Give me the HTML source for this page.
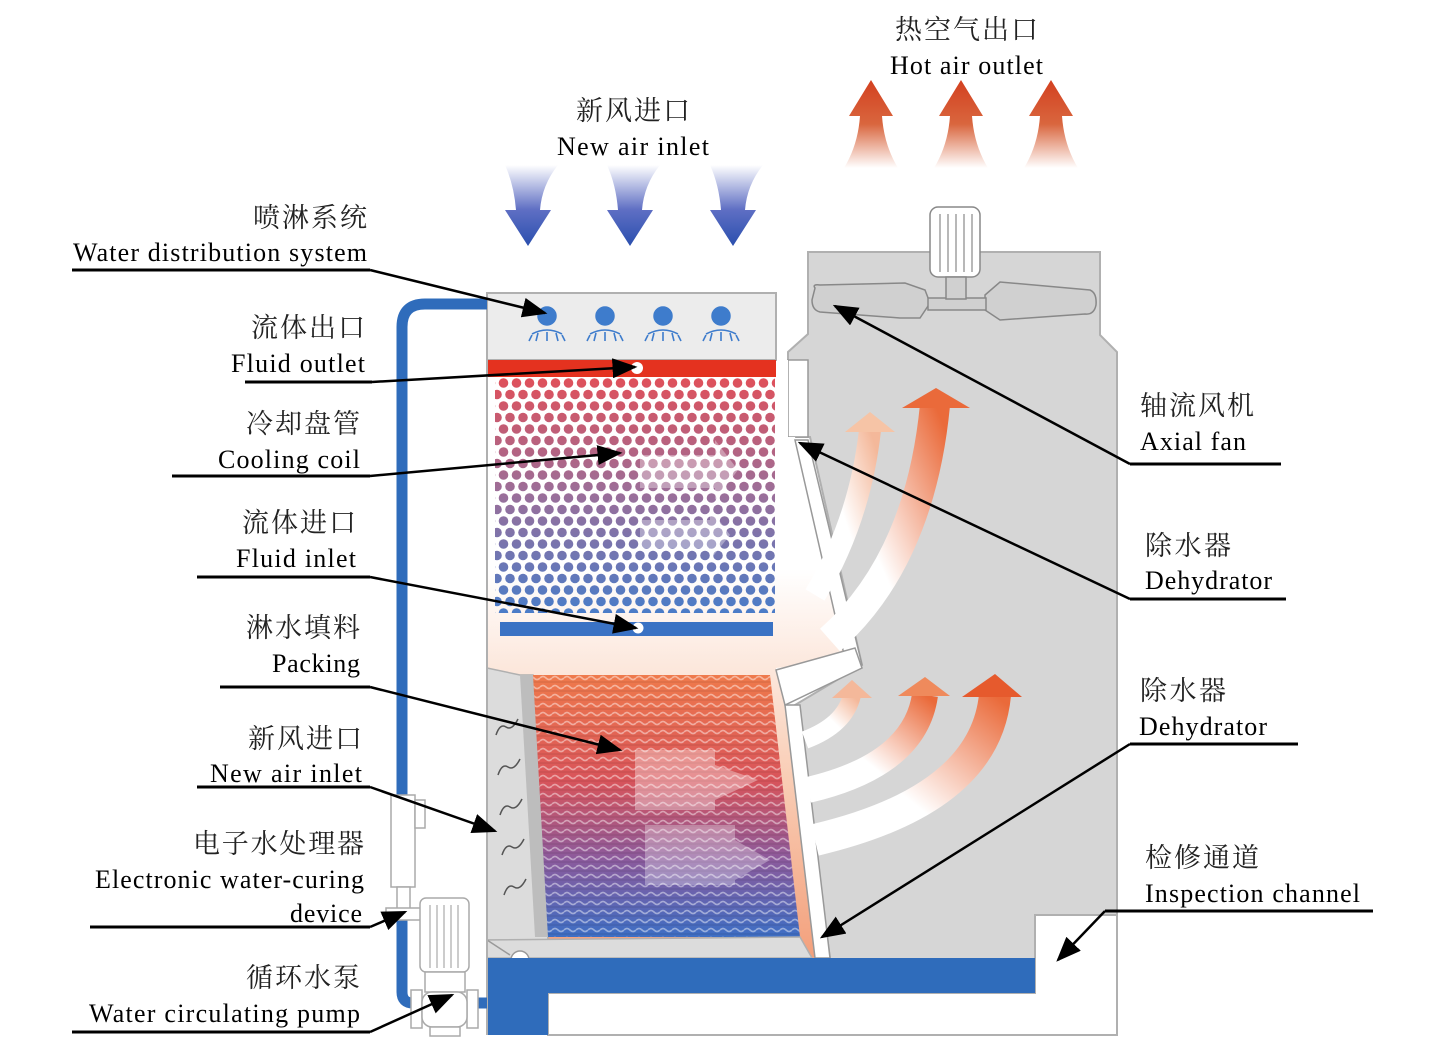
<!DOCTYPE html>
<html><head><meta charset="utf-8"><style>
html,body{margin:0;padding:0;background:#fff;}
svg{display:block;}
.en{font-family:"Liberation Serif","Noto Serif CJK SC",serif;font-size:26px;fill:#000;}
.cn{font-family:"Noto Serif CJK SC","Noto Sans CJK SC",serif;font-size:27px;fill:#222;}
.ul{stroke:#000;stroke-width:3;fill:none;}
.ld{stroke:#000;stroke-width:2.5;fill:none;marker-end:url(#ah);}
</style></head><body>
<svg width="1443" height="1050" viewBox="0 0 1443 1050" xmlns="http://www.w3.org/2000/svg">
<defs>
<marker id="ah" markerWidth="10" markerHeight="8" refX="9" refY="4" orient="auto" markerUnits="strokeWidth"><path d="M0,0 L10,4 L0,8 z" fill="#000"/></marker>
<linearGradient id="blueA" x1="0" y1="0" x2="0" y2="1"><stop offset="0" stop-color="#fff"/><stop offset="0.55" stop-color="#5f6fc4"/><stop offset="1" stop-color="#2a4fae"/></linearGradient>
<linearGradient id="redA" x1="0" y1="1" x2="0" y2="0"><stop offset="0" stop-color="#fff"/><stop offset="0.5" stop-color="#d9663e"/><stop offset="1" stop-color="#d3401f"/></linearGradient>
<linearGradient id="coilG" x1="0" y1="0" x2="0" y2="1"><stop offset="0" stop-color="#e0505a"/><stop offset="0.5" stop-color="#9a6f9a"/><stop offset="1" stop-color="#4a7cc8"/></linearGradient>
<linearGradient id="packG" x1="0" y1="0" x2="0" y2="1"><stop offset="0" stop-color="#ef7a4c"/><stop offset="0.4" stop-color="#d9545a"/><stop offset="0.7" stop-color="#8c5a9c"/><stop offset="1" stop-color="#3d6ec4"/></linearGradient>
<linearGradient id="chG" x1="0" y1="0" x2="0" y2="1"><stop offset="0" stop-color="#fff"/><stop offset="0.35" stop-color="#fff"/><stop offset="0.7" stop-color="#f9cdb5"/><stop offset="1" stop-color="#f3a07c"/></linearGradient>
<linearGradient id="curvG" x1="0" y1="1" x2="1" y2="0"><stop offset="0" stop-color="#fff"/><stop offset="0.4" stop-color="#fff"/><stop offset="1" stop-color="#ea6a3a"/></linearGradient>
<linearGradient id="curvG2" x1="0" y1="1" x2="1" y2="0"><stop offset="0" stop-color="#fff"/><stop offset="0.5" stop-color="#fff"/><stop offset="1" stop-color="#f4b89a"/></linearGradient>
<pattern id="dots" width="13" height="23" patternUnits="userSpaceOnUse" x="497" y="377">
<circle cx="6.5" cy="6" r="4.8" fill="#fff"/><circle cx="0" cy="17.5" r="4.8" fill="#fff"/><circle cx="13" cy="17.5" r="4.8" fill="#fff"/>
</pattern>
<mask id="dm"><rect x="495" y="377" width="280" height="236" fill="url(#dots)"/></mask>
<pattern id="stripes" width="12" height="9" patternUnits="userSpaceOnUse">
<path d="M0,3 Q3,0 6,3 T12,3" stroke="#fff" stroke-opacity="0.45" stroke-width="1.6" fill="none"/>
<path d="M0,7 L12,7" stroke="#000" stroke-opacity="0.08" stroke-width="1.5"/>
</pattern>
</defs>

<!-- housing right -->
<polygon points="808,252 1100,252 1100,335 1117,352 1117,1035 548,1035 548,958 830,958 795,705 862,665 810,437 788,437 788,352 808,334" fill="#d6d6d6" stroke="#b0b0b0" stroke-width="2"/>
<polygon points="1035,915 1117,915 1117,1035 548,1035 548,993 1035,993" fill="#fff" stroke="#b0b0b0" stroke-width="2"/>
<rect x="788" y="360" width="20" height="77" fill="#fff" stroke="#999" stroke-width="1.5"/>

<!-- chamber -->
<polygon points="487,360 788,360 788,437 795,437 848,660 776,668 785,705 815,958 487,958" fill="url(#chG)"/>
<polygon points="795,440 808,440 862,665 848,672" fill="#fff" stroke="#999" stroke-width="1.5"/>
<polygon points="776,670 855,648 862,668 785,705" fill="#fff" stroke="#999" stroke-width="1.5"/>
<polygon points="785,705 800,705 830,958 815,958" fill="#fff" stroke="#999" stroke-width="1.5"/>

<!-- curved arrows upper -->
<path d="M815,595 Q860,520 870,430" stroke="url(#curvG2)" stroke-width="22" fill="none"/>
<polygon points="845,432 870,412 895,432" fill="#f6c4a6"/>
<path d="M830,640 Q920,560 935,405" stroke="url(#curvG)" stroke-width="30" fill="none"/>
<polygon points="902,408 936,388 970,408" fill="#ea6a3a"/>
<!-- curved arrows lower -->
<path d="M805,740 Q845,725 852,695" stroke="url(#curvG2)" stroke-width="18" fill="none"/>
<polygon points="832,698 852,680 872,698" fill="#f4b89a"/>
<path d="M808,790 Q915,765 925,695" stroke="url(#curvG)" stroke-width="26" fill="none"/>
<polygon points="898,696 925,677 950,696" fill="#ef8a5c"/>
<path d="M815,840 Q985,800 995,695" stroke="url(#curvG)" stroke-width="32" fill="none"/>
<polygon points="962,697 995,674 1022,697" fill="#e65a2d"/>

<!-- left tower -->
<rect x="487" y="293" width="289" height="67" fill="#ececec" stroke="#b0b0b0" stroke-width="2"/>
<rect x="487" y="360" width="289" height="17" fill="#e4321f"/>
<rect x="495" y="377" width="280" height="236" fill="url(#coilG)" mask="url(#dm)"/>
<rect x="500" y="622" width="273" height="14" fill="#3a72c4"/>
<polygon points="640,455 715,455 715,440 738,470 715,500 715,488 640,488" fill="#fff" opacity="0.35"/>
<polygon points="640,520 710,520 710,508 730,535 710,560 710,548 640,548" fill="#fff" opacity="0.35"/>

<polygon points="487,668 520,675 533,675 548,940 487,940" fill="#dcdcdc" stroke="#b0b0b0" stroke-width="1.5"/>
<polygon points="520,675 533,675 548,937 535,937" fill="#bdbdbd"/>
<g stroke="#555" stroke-width="1.5" fill="none">
<path d="M496,735 q4,-12 10,-8 q6,4 12,-8"/><path d="M498,775 q4,-12 10,-8 q6,4 12,-8"/><path d="M500,815 q4,-12 10,-8 q6,4 12,-8"/><path d="M502,855 q4,-12 10,-8 q6,4 12,-8"/><path d="M504,895 q4,-12 10,-8 q6,4 12,-8"/>
</g>
<polygon points="533,675 770,675 800,937 548,937" fill="url(#packG)"/>
<polygon points="533,675 770,675 800,937 548,937" fill="url(#stripes)"/>
<polygon points="635,750 715,750 715,765 758,780 715,800 715,810 635,810" fill="#fff" opacity="0.35"/>
<polygon points="645,825 735,825 735,840 770,860 735,880 735,885 645,885" fill="#fff" opacity="0.3"/>
<polygon points="487,940 800,937 812,958 487,958" fill="#dcdcdc" stroke="#b0b0b0" stroke-width="1.5"/>
<path d="M487,940 L510,955" stroke="#999" stroke-width="1.5"/>
<circle cx="520" cy="960" r="9" fill="#fff" stroke="#999" stroke-width="1.5"/>
<polygon points="487,958 1035,958 1035,993 548,993 548,1035 487,1035" fill="#2f6cbb"/>
<line x1="487" y1="293" x2="487" y2="1035" stroke="#b0b0b0" stroke-width="2"/>

<!-- sprays -->
<g fill="#3e7ccc" stroke="#3e7ccc" stroke-width="1.5">
<circle cx="547" cy="316" r="9"/><circle cx="605" cy="316" r="9"/><circle cx="663" cy="316" r="9"/><circle cx="721" cy="316" r="9"/>
</g>
<g stroke="#3e7ccc" stroke-width="1.6" fill="none">
<path d="M532,335 l-3,6 M538,333 l-2,8 M547,332 v9 M556,333 l2,8 M562,335 l3,6 M532,334 q15,-8 30,0"/>
<path d="M590,335 l-3,6 M596,333 l-2,8 M605,332 v9 M614,333 l2,8 M620,335 l3,6 M590,334 q15,-8 30,0"/>
<path d="M648,335 l-3,6 M654,333 l-2,8 M663,332 v9 M672,333 l2,8 M678,335 l3,6 M648,334 q15,-8 30,0"/>
<path d="M706,335 l-3,6 M712,333 l-2,8 M721,332 v9 M730,333 l2,8 M736,335 l3,6 M706,334 q15,-8 30,0"/>
</g>
<circle cx="637" cy="368" r="6" fill="#fff"/>
<circle cx="638" cy="628" r="5.5" fill="#fff"/>

<!-- pipe -->
<path d="M487,304 L425,304 Q402,304 402,327 L402,992 Q402,1003 413,1003 L487,1003" stroke="#2f6cbb" stroke-width="11" fill="none"/>
<rect x="391" y="795" width="24" height="92" fill="#fff" stroke="#aaa" stroke-width="1.5"/>
<rect x="415" y="800" width="10" height="28" fill="#fff" stroke="#aaa" stroke-width="1.5"/>
<rect x="397" y="887" width="13" height="25" fill="#fff" stroke="#aaa" stroke-width="1.5"/>
<rect x="386" y="908" width="36" height="12" fill="#fff" stroke="#aaa" stroke-width="1.5"/>
<g fill="#fff" stroke="#aaa" stroke-width="1.5">
<rect x="420" y="898" width="49" height="74" rx="6"/>
<rect x="425" y="972" width="40" height="20"/>
<rect x="411" y="990" width="11" height="38"/>
<rect x="467" y="990" width="11" height="38"/>
<rect x="422" y="992" width="45" height="35" rx="10"/>
<rect x="430" y="1027" width="30" height="9"/>
</g>
<g stroke="#aaa" stroke-width="1.2"><line x1="430" y1="905" x2="430" y2="968"/><line x1="437" y1="905" x2="437" y2="968"/><line x1="444" y1="905" x2="444" y2="968"/><line x1="451" y1="905" x2="451" y2="968"/><line x1="458" y1="905" x2="458" y2="968"/></g>

<!-- fan -->
<g fill="#d0d0d0" stroke="#888" stroke-width="1.5">
<rect x="930" y="207" width="50" height="70" rx="8" fill="#fff"/>
<path d="M815,288 Q812,284 820,285 L905,283 L925,290 L930,303 L920,318 L900,318 L820,312 Q812,310 812,300 Z"/>
<path d="M985,295 L1000,282 L1090,290 Q1097,293 1096,305 Q1094,315 1085,314 L1000,320 L985,310 Z"/>
<rect x="928" y="298" width="58" height="12"/>
<rect x="946" y="277" width="20" height="22"/>
</g>
<g stroke="#888" stroke-width="1.2"><line x1="940" y1="214" x2="940" y2="272"/><line x1="948" y1="214" x2="948" y2="272"/><line x1="956" y1="214" x2="956" y2="272"/><line x1="964" y1="214" x2="964" y2="272"/><line x1="972" y1="214" x2="972" y2="272"/></g>

<g fill="url(#blueA)">
<path d="M505,165 L558,165 Q542,185 540,210 L551,210 L528,246 L505,210 L516,210 Q514,185 505,165 Z"/>
<path d="M607,165 L660,165 Q644,185 642,210 L653,210 L630,246 L607,210 L618,210 Q616,185 607,165 Z"/>
<path d="M710,165 L763,165 Q747,185 745,210 L756,210 L733,246 L710,210 L721,210 Q719,185 710,165 Z"/>
</g>
<g fill="url(#redA)">
<path d="M871,80 L893,116 L882,116 Q884,145 898,168 L844,168 Q858,145 860,116 L849,116 Z"/>
<path d="M961,80 L983,116 L972,116 Q974,145 988,168 L934,168 Q948,145 950,116 L939,116 Z"/>
<path d="M1051,80 L1073,116 L1062,116 Q1064,145 1078,168 L1024,168 Q1038,145 1040,116 L1029,116 Z"/>
</g>

<!-- labels -->
<g>
<text class="cn" x="367" y="227" text-anchor="end" textLength="114" lengthAdjust="spacing">喷淋系统</text>
<text class="en" x="73" y="261" textLength="294" lengthAdjust="spacing">Water distribution system</text>
<path class="ul" d="M72,270 L370,270"/><path class="ld" d="M370,270 L545,313"/>

<text class="cn" x="365" y="337" text-anchor="end" textLength="114" lengthAdjust="spacing">流体出口</text>
<text class="en" x="231" y="372" textLength="134" lengthAdjust="spacing">Fluid outlet</text>
<path class="ul" d="M245,382 L372,382"/><path class="ld" d="M372,382 L635,367"/>

<text class="cn" x="360" y="433" text-anchor="end" textLength="114" lengthAdjust="spacing">冷却盘管</text>
<text class="en" x="218" y="468" textLength="142" lengthAdjust="spacing">Cooling coil</text>
<path class="ul" d="M172,476 L370,476"/><path class="ld" d="M370,476 L620,453"/>

<text class="cn" x="356" y="532" text-anchor="end" textLength="114" lengthAdjust="spacing">流体进口</text>
<text class="en" x="236" y="567" textLength="120" lengthAdjust="spacing">Fluid inlet</text>
<path class="ul" d="M197,577 L370,577"/><path class="ld" d="M370,577 L636,628"/>

<text class="cn" x="360" y="637" text-anchor="end" textLength="114" lengthAdjust="spacing">淋水填料</text>
<text class="en" x="272" y="672" textLength="88" lengthAdjust="spacing">Packing</text>
<path class="ul" d="M220,687 L370,687"/><path class="ld" d="M370,687 L620,750"/>

<text class="cn" x="362" y="748" text-anchor="end" textLength="114" lengthAdjust="spacing">新风进口</text>
<text class="en" x="210" y="782" textLength="152" lengthAdjust="spacing">New air inlet</text>
<path class="ul" d="M197,787 L370,787"/><path class="ld" d="M370,787 L495,831"/>

<text class="cn" x="364" y="853" text-anchor="end" textLength="171" lengthAdjust="spacing">电子水处理器</text>
<text class="en" x="95" y="888" textLength="269" lengthAdjust="spacing">Electronic water-curing</text>
<text class="en" x="290" y="922" textLength="72" lengthAdjust="spacing">device</text>
<path class="ul" d="M90,927 L370,927"/><path class="ld" d="M370,927 L405,912"/>

<text class="cn" x="360" y="987" text-anchor="end" textLength="114" lengthAdjust="spacing">循环水泵</text>
<text class="en" x="89" y="1022" textLength="271" lengthAdjust="spacing">Water circulating pump</text>
<path class="ul" d="M72,1032 L370,1032"/><path class="ld" d="M370,1032 L452,995"/>

<text class="cn" x="1140" y="415" textLength="114" lengthAdjust="spacing">轴流风机</text>
<text class="en" x="1140" y="450" textLength="106" lengthAdjust="spacing">Axial fan</text>
<path class="ul" d="M1130,464 L1281,464"/><path class="ld" d="M1130,464 L835,306"/>

<text class="cn" x="1145" y="555" textLength="86" lengthAdjust="spacing">除水器</text>
<text class="en" x="1145" y="589" textLength="127" lengthAdjust="spacing">Dehydrator</text>
<path class="ul" d="M1130,599 L1286,599"/><path class="ld" d="M1130,599 L800,443"/>

<text class="cn" x="1140" y="700" textLength="86" lengthAdjust="spacing">除水器</text>
<text class="en" x="1139" y="735" textLength="128" lengthAdjust="spacing">Dehydrator</text>
<path class="ul" d="M1130,744 L1298,744"/><path class="ld" d="M1130,744 L822,937"/>

<text class="cn" x="1145" y="867" textLength="114" lengthAdjust="spacing">检修通道</text>
<text class="en" x="1145" y="902" textLength="215" lengthAdjust="spacing">Inspection channel</text>
<path class="ul" d="M1105,911 L1373,911"/><path class="ld" d="M1105,911 L1058,960"/>

<text class="cn" x="576" y="120" textLength="114" lengthAdjust="spacing">新风进口</text>
<text class="en" x="557" y="155" textLength="152" lengthAdjust="spacing">New air inlet</text>
<text class="cn" x="895" y="39" textLength="143" lengthAdjust="spacing">热空气出口</text>
<text class="en" x="890" y="74" textLength="153" lengthAdjust="spacing">Hot air outlet</text>
</g>
</svg>
</body></html>
